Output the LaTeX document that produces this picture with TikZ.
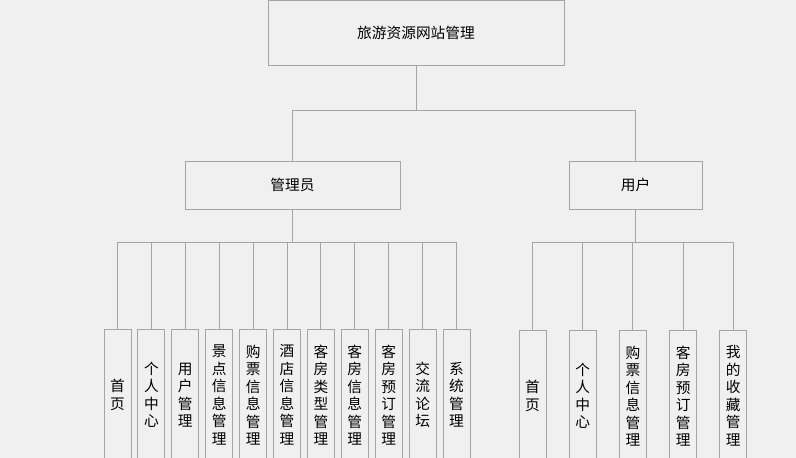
\documentclass[tikz,border=0pt]{standalone}
\usepackage{fontspec}
\setmainfont{Noto Sans CJK SC}
\definecolor{boxline}{RGB}{165,165,165}
\definecolor{paper}{RGB}{240,240,240}
\tikzset{
  box/.style={draw=boxline, line width=0.9pt, inner sep=0pt, font=\fontsize{14.7}{17.5}\selectfont},
  leafbox/.style={box, minimum width=27pt, minimum height=131pt, anchor=north, align=center},
  wire/.style={draw=boxline, line width=0.9pt},
}
\begin{document}
\begin{tikzpicture}[x=1pt,y=-1pt]
            \useasboundingbox[fill=paper] (0,0) rectangle (796,458);%
            
            % Drawing root box
            \node [box, minimum width=296pt, minimum height=65pt] (root) at (416,33) {旅游资源网站管理};%
            
            % Drawing role boxes
            \node [box, minimum width=215pt, minimum height=48pt] (admin) at (292.5,185) {管理员};%
            \node [box, minimum width=133pt, minimum height=48pt] (user) at (635.5,185) {用户};%
            
            % Drawing admin leaf boxes
            \foreach \name [count=\i] in {{首\\页}, {个\\人\\中\\心}, {用\\户\\管\\理}, {景\\点\\信\\息\\管\\理}, {购\\票\\信\\息\\管\\理}, {酒\\店\\信\\息\\管\\理}, {客\\房\\类\\型\\管\\理}, {客\\房\\信\\息\\管\\理}, {客\\房\\预\\订\\管\\理}, {交\\流\\论\\坛}, {系\\统\\管\\理}}
              \node [leafbox] (a\i) at (117.5+33.9*\i-33.9,329) {\name};%
            
            % Drawing user leaf boxes
            \foreach \name [count=\i] in {{首\\页}, {个\\人\\中\\心}, {购\\票\\信\\息\\管\\理}, {客\\房\\预\\订\\管\\理}, {我\\的\\收\\藏\\管\\理}}
              \node [leafbox] (u\i) at (532.5+50.2*\i-50.2,330) {\name};%
            
            % Drawing root links
            \coordinate (rootbus) at (root.south |- 0,110);%
            \draw [wire] (root.south) -- (rootbus);%
            \draw [wire] (admin.north) -- (admin.north |- rootbus) -- (user.north |- rootbus) -- (user.north);%
            
            % Drawing admin links
            \coordinate (adminbus) at (admin.south |- 0,242);%
            \draw [wire] (admin.south) -- (adminbus);%
            \draw [wire] (a1.north |- adminbus) -- (a11.north |- adminbus);%
            \foreach \i in {1,...,11}
              \draw [wire] (a\i.north) -- (a\i.north |- adminbus);%
            
            % Drawing user links
            \coordinate (userbus) at (user.south |- 0,242);%
            \draw [wire] (user.south) -- (userbus);%
            \draw [wire] (u1.north |- userbus) -- (u5.north |- userbus);%
            \foreach \i in {1,...,5}
              \draw [wire] (u\i.north) -- (u\i.north |- userbus);%
\end{tikzpicture}
\end{document}
